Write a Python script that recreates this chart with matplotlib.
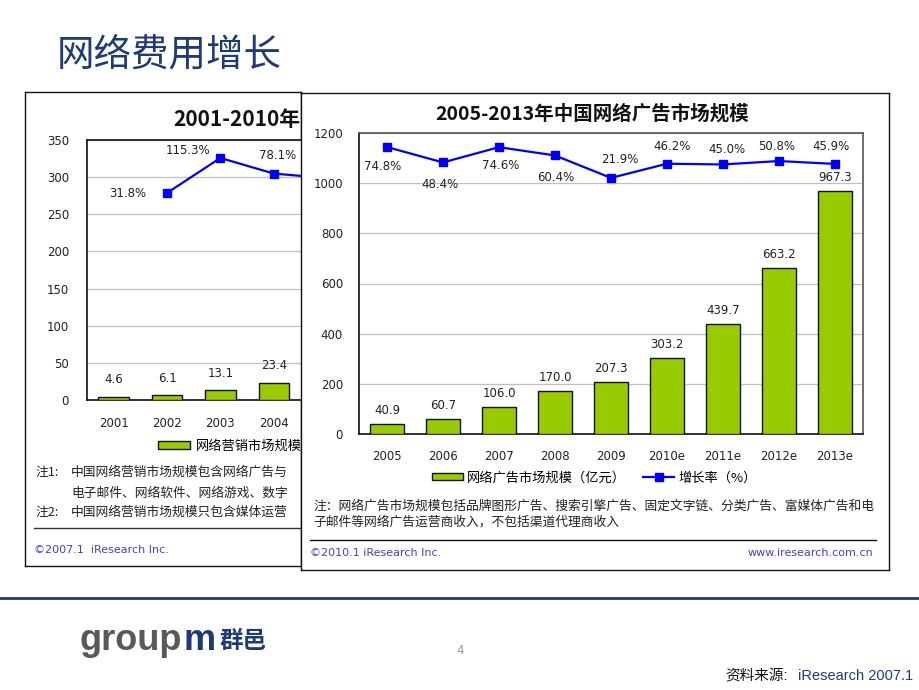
import matplotlib
matplotlib.use("Agg")
import matplotlib.pyplot as plt

plt.rcParams['font.family'] = ['DejaVu Sans', 'Noto Sans CJK SC']

# ---------------- data ----------------
left_years = ["2001", "2002", "2003", "2004"]
left_market = [4.6, 6.1, 13.1, 23.4]
left_growth_years = [1, 2, 3, 4]          # index positions of 2002..2005
left_growth = [31.8, 115.3, 78.1, 67.0]   # 2005 value hidden behind front chart (estimated)
left_yticks = [0, 50, 100, 150, 200, 250, 300, 350]

front_years = ["2005", "2006", "2007", "2008", "2009", "2010e", "2011e", "2012e", "2013e"]
front_market = [40.9, 60.7, 106.0, 170.0, 207.3, 303.2, 439.7, 663.2, 967.3]
front_growth = [74.8, 48.4, 74.6, 60.4, 21.9, 46.2, 45.0, 50.8, 45.9]
front_yticks = [0, 200, 400, 600, 800, 1000, 1200]

# label offsets (pixels, screen y down) - layout only
left_lab_off = [(-39, 1), (-32, -7), (4, -18)]
front_lab_off = [(-4, 19), (-3, 22), (2, 18), (1, 22), (9, -18), (5, -17), (4, -15), (-2, -15), (-4, -17)]

GREEN = '#99CC00'
BLUE = '#0000FF'
NAVY = '#1F3A7A'
IRBLUE = '#4040D8'
CJK = ['Noto Sans CJK SC']

W, H = 920, 690
fig = plt.figure(figsize=(9.2, 6.9), dpi=100)


def rect(x0, y0, x1, y1):
    return [x0 / W, 1 - y1 / H, (x1 - x0) / W, (y1 - y0) / H]


def fx(x):
    return x / W


def fy(y):
    return 1 - y / H


def panel(r, z):
    ax = fig.add_axes(r, zorder=z)
    ax.set_xticks([])
    ax.set_yticks([])
    ax.set_facecolor('white')
    for s in ax.spines.values():
        s.set_color('#111111')
        s.set_linewidth(1.0)
    return ax


px = 72 / 100.0  # points per pixel

# ---------------- left (back) chart ----------------
pl = panel(rect(25, 92, 301, 566), 0)
pl.text(fx(173), fy(120), "2001-2010年", transform=fig.transFigure,
        family=CJK, weight='bold', fontsize=15, va='center', ha='left', color='#111111')

axl = fig.add_axes(rect(87, 140, 310, 400), zorder=1)
xl = list(range(len(left_years)))
bl = axl.bar(xl, left_market, width=0.57, color=GREEN, edgecolor='#111111', linewidth=1.0, zorder=3)
axl.bar_label(bl, fmt='%.1f', padding=7.5, fontsize=8.5, color='#222222')
axl.set_ylim(0, 350)
axl.set_xlim(-0.5, 3.68)
axl.set_yticks(left_yticks)
axl.set_xticks(xl)
axl.set_xticklabels(left_years)
axl.tick_params(length=0, labelsize=8.5, colors='#222222')
axl.tick_params(axis='y', pad=13)
axl.tick_params(axis='x', pad=12)
axl.grid(axis='y', color='#C0C0C0', linewidth=0.9)
axl.set_axisbelow(True)
for k in ['left', 'top', 'bottom']:
    axl.spines[k].set_color('#111111')
    axl.spines[k].set_linewidth(1.2)
axl.spines['right'].set_visible(False)

axl2 = axl.twinx()
axl2.set_zorder(1.5)
axl2.set_axis_off()
axl2.set_ylim(-462.4, 158.2)
(ll,) = axl2.plot(left_growth_years, left_growth, color=BLUE, lw=1.6, marker='s', markersize=5.3)
for i, (dx, dy) in enumerate(left_lab_off):
    g = left_growth[i]
    axl2.annotate(f"{g:.1f}%", (left_growth_years[i], g), xytext=(dx * px, -dy * px),
                  textcoords='offset points', ha='center', va='center', fontsize=8.5, color='#222222')

axl.legend(handles=[bl], labels=["网络营销市场规模"], loc='center left',
           bbox_to_anchor=(fx(158), fy(446)), bbox_transform=fig.transFigure, frameon=False,
           borderpad=0, borderaxespad=0, handlelength=2.4, handleheight=0.6, handletextpad=0.45,
           prop={'family': CJK, 'size': 9.5})

for (x, y, s) in [(35, 472, "注1:"), (71, 472, "中国网络营销市场规模包含网络广告与"),
                  (71, 493, "电子邮件、网络软件、网络游戏、数字"),
                  (35, 512, "注2:"), (71, 512, "中国网络营销市场规模只包含媒体运营")]:
    pl.text(fx(x), fy(y), s, transform=fig.transFigure, family=CJK, fontsize=9.2,
            va='center', ha='left', color='#222222')
pl.plot([fx(34), fx(300)], [fy(528), fy(528)], transform=fig.transFigure, color='#333333',
        lw=1.0, clip_on=False)
pl.text(fx(34), fy(550), "©2007.1  iResearch Inc.", transform=fig.transFigure, fontsize=8,
        color=IRBLUE, va='center', ha='left')

# ---------------- front chart ----------------
pf = panel(rect(301, 93, 889, 570), 2)
pf.text(fx(592), fy(114), "2005-2013年中国网络广告市场规模", transform=fig.transFigure,
        family=CJK, weight='bold', fontsize=14, va='center', ha='center', color='#111111')

axf = fig.add_axes(rect(359, 133, 863, 434), zorder=3)
xf = list(range(len(front_years)))
bf = axf.bar(xf, front_market, width=0.59, color=GREEN, edgecolor='#111111', linewidth=1.0, zorder=3)
axf.bar_label(bf, fmt='%.1f', padding=5, fontsize=8.5, color='#222222')
axf.set_ylim(0, 1200)
axf.set_xlim(-0.5, len(front_years) - 0.5)
axf.set_yticks(front_yticks)
axf.set_xticks(xf)
axf.set_xticklabels(front_years)
axf.tick_params(length=0, labelsize=8.5, colors='#222222')
axf.tick_params(axis='y', pad=11.5)
axf.tick_params(axis='x', pad=11.5)
axf.grid(axis='y', color='#C0C0C0', linewidth=0.9)
axf.set_axisbelow(True)
for k in ['left', 'bottom']:
    axf.spines[k].set_color('#111111')
    axf.spines[k].set_linewidth(1.2)
for k in ['top', 'right']:
    axf.spines[k].set_color('#555555')
    axf.spines[k].set_linewidth(1.2)

axf2 = axf.twinx()
axf2.set_zorder(4)
axf2.set_axis_off()
axf2.set_ylim(-417.2, 98.9)
(lf,) = axf2.plot(xf, front_growth, color=BLUE, lw=1.6, marker='s', markersize=5.3)
for i, (g, (dx, dy)) in enumerate(zip(front_growth, front_lab_off)):
    axf2.annotate(f"{g:.1f}%", (xf[i], g), xytext=(dx * px, -dy * px),
                  textcoords='offset points', ha='center', va='center', fontsize=8.5, color='#222222')

axf.legend(handles=[bf, lf], labels=["网络广告市场规模（亿元）", "增长率（%）"], loc='center left',
           bbox_to_anchor=(fx(432), fy(478)), bbox_transform=fig.transFigure, ncol=2, frameon=False,
           borderpad=0, borderaxespad=0, handlelength=2.35, handleheight=0.45, handletextpad=0.3,
           columnspacing=1.3, prop={'family': CJK, 'size': 9.5})

pf.text(fx(313), fy(506), "注：网络广告市场规模包括品牌图形广告、搜索引擎广告、固定文字链、分类广告、富媒体广告和电",
        transform=fig.transFigure, family=CJK, fontsize=9.2, va='center', ha='left', color='#222222')
pf.text(fx(313), fy(522), "子邮件等网络广告运营商收入，不包括渠道代理商收入",
        transform=fig.transFigure, family=CJK, fontsize=9.2, va='center', ha='left', color='#222222')
pf.plot([fx(310), fx(876)], [fy(540), fy(540)], transform=fig.transFigure, color='#111111',
        lw=1.0, clip_on=False)
pf.text(fx(310), fy(553), "©2010.1 iResearch Inc.", transform=fig.transFigure, fontsize=8,
        color=IRBLUE, va='center', ha='left')
pf.text(fx(873), fy(553), "www.iresearch.com.cn", transform=fig.transFigure, fontsize=8,
        color=IRBLUE, va='center', ha='right')

# ---------------- slide decorations ----------------
fig.text(fx(57), fy(55), "网络费用增长", family=CJK, fontsize=27, color=NAVY, va='center', ha='left')
fig.add_artist(plt.Line2D([0, 1], [fy(598), fy(598)], color=NAVY, lw=2.0))
fig.text(fx(80), fy(650), "group", family=['Liberation Sans'], weight='bold', fontsize=26,
         color='#58595B', va='baseline', ha='left')
fig.text(fx(184), fy(650), "m", family=['Liberation Sans'], weight='bold', fontsize=26,
         color=NAVY, va='baseline', ha='left')
fig.text(fx(220), fy(641), "群邑", family=CJK, weight='bold', fontsize=17, color=NAVY,
         va='center', ha='left')
fig.text(fx(460), fy(650), "4", fontsize=8.5, color='#999999', va='center', ha='center')
fig.text(fx(725), fy(676), "资料来源:", family=['Liberation Sans', 'Noto Sans CJK SC'], fontsize=10.5,
         color='#111111', va='center', ha='left')
fig.text(fx(913), fy(676), "iResearch 2007.1", family=['Liberation Sans'], fontsize=10.5,
         color='#1F3A8A', va='center', ha='right')

fig.savefig("out.png", dpi=100, facecolor='white')
